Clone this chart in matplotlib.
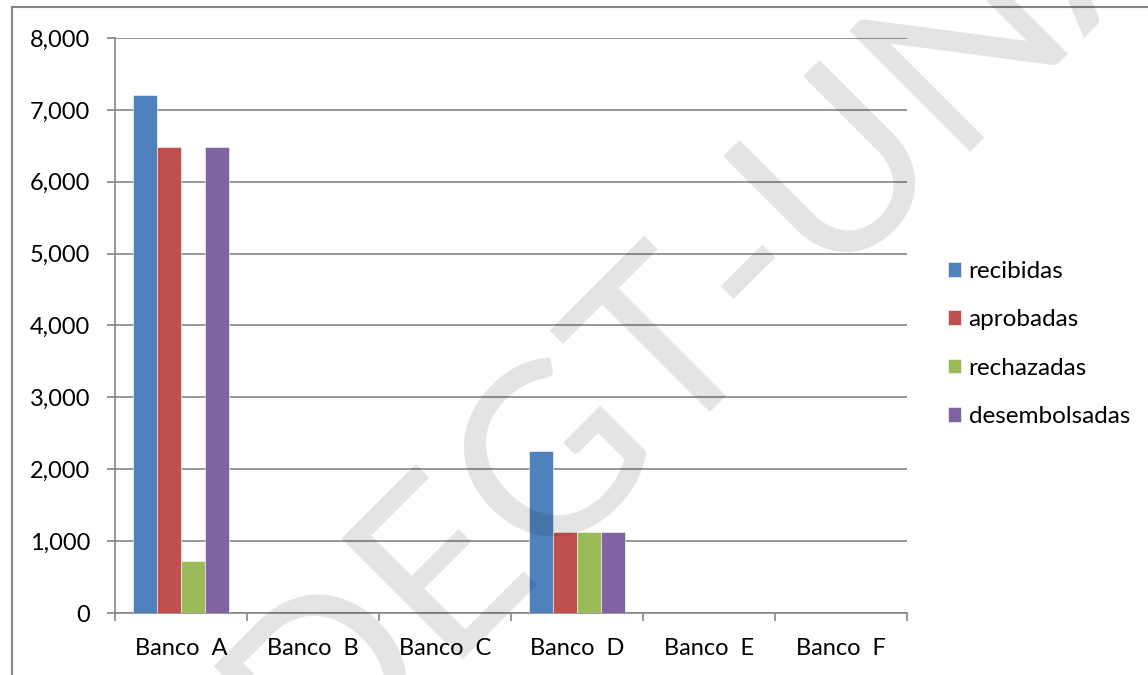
import numpy as np
import matplotlib
matplotlib.use("Agg")
import matplotlib.pyplot as plt
from matplotlib.lines import Line2D

plt.rcParams['font.family'] = ['Lato', 'DejaVu Sans']

bancos = ['Banco  A', 'Banco  B', 'Banco  C', 'Banco  D', 'Banco  E', 'Banco  F']
series = ['recibidas', 'aprobadas', 'rechazadas', 'desembolsadas']
recibidas = [7200, 0, 0, 2250, 0, 0]
aprobadas = [6480, 0, 0, 1125, 0, 0]
rechazadas = [720, 0, 0, 1125, 0, 0]
desembolsadas = [6480, 0, 0, 1125, 0, 0]
colores = ['#4f81bd', '#c0504d', '#9bbb59', '#8064a2']
yticks = [0, 1000, 2000, 3000, 4000, 5000, 6000, 7000, 8000]

W, H = 1148, 675
fig = plt.figure(figsize=(W / 100, H / 100), dpi=100)
ax = fig.add_axes([115 / W, 1 - 613 / H, (907 - 115) / W, (613 - 38) / H])

gris = '#868686'
x = np.arange(len(bancos))
w = 1 / 5.5
valores = [recibidas, aprobadas, rechazadas, desembolsadas]
for i, (nombre, vals) in enumerate(zip(series, valores)):
    ax.bar(x + (i - 1.5) * w, vals, width=w, color=colores[i], label=nombre,
           edgecolor='white', linewidth=0.4, zorder=3)

ax.set_xlim(-0.5, len(bancos) - 0.5)
ax.set_ylim(0, 8000)
ax.set_yticks(yticks)
ax.set_yticklabels(['{:,}'.format(v) for v in yticks])
ax.yaxis.grid(True, color=gris, linewidth=1.2)
ax.set_axisbelow(True)

# category boundaries as major ticks, labels on minor ticks
ax.set_xticks(np.arange(-0.5, len(bancos), 1.0))
ax.set_xticklabels([])
ax.set_xticks(x, minor=True)
ax.set_xticklabels(bancos, minor=True)
ax.tick_params(axis='x', which='major', length=6, width=1.2, color=gris, direction='out')
ax.tick_params(axis='x', which='minor', length=0, pad=18, labelsize=17)
ax.tick_params(axis='y', length=6, width=1.2, color=gris, direction='out', pad=12, labelsize=17)

for s in ['top', 'right']:
    ax.spines[s].set_visible(False)
for s in ['left', 'bottom']:
    ax.spines[s].set_color(gris)
    ax.spines[s].set_linewidth(1.2)

ax.legend(loc='center left', bbox_to_anchor=(948 / W, 1 - 344 / H),
          bbox_transform=fig.transFigure, frameon=False, fontsize=17.5,
          handlelength=0.55, handleheight=0.55, handletextpad=0.3,
          labelspacing=1.12, borderpad=0, borderaxespad=0)

# outer frame
fig.add_artist(Line2D([12 / W, 12 / W], [0, 1 - 7 / H], color=gris, lw=1.5))
fig.add_artist(Line2D([12 / W, 1], [1 - 7 / H, 1 - 7 / H], color=gris, lw=1.5))

# watermark
fig.text(705 / W, 1 - 300 / H, 'DEGT-UNA', rotation=45, ha='center', va='center',
         fontsize=172, color='black', alpha=0.11, zorder=10,
         rotation_mode='anchor')

fig.savefig('out.png', dpi=100)
